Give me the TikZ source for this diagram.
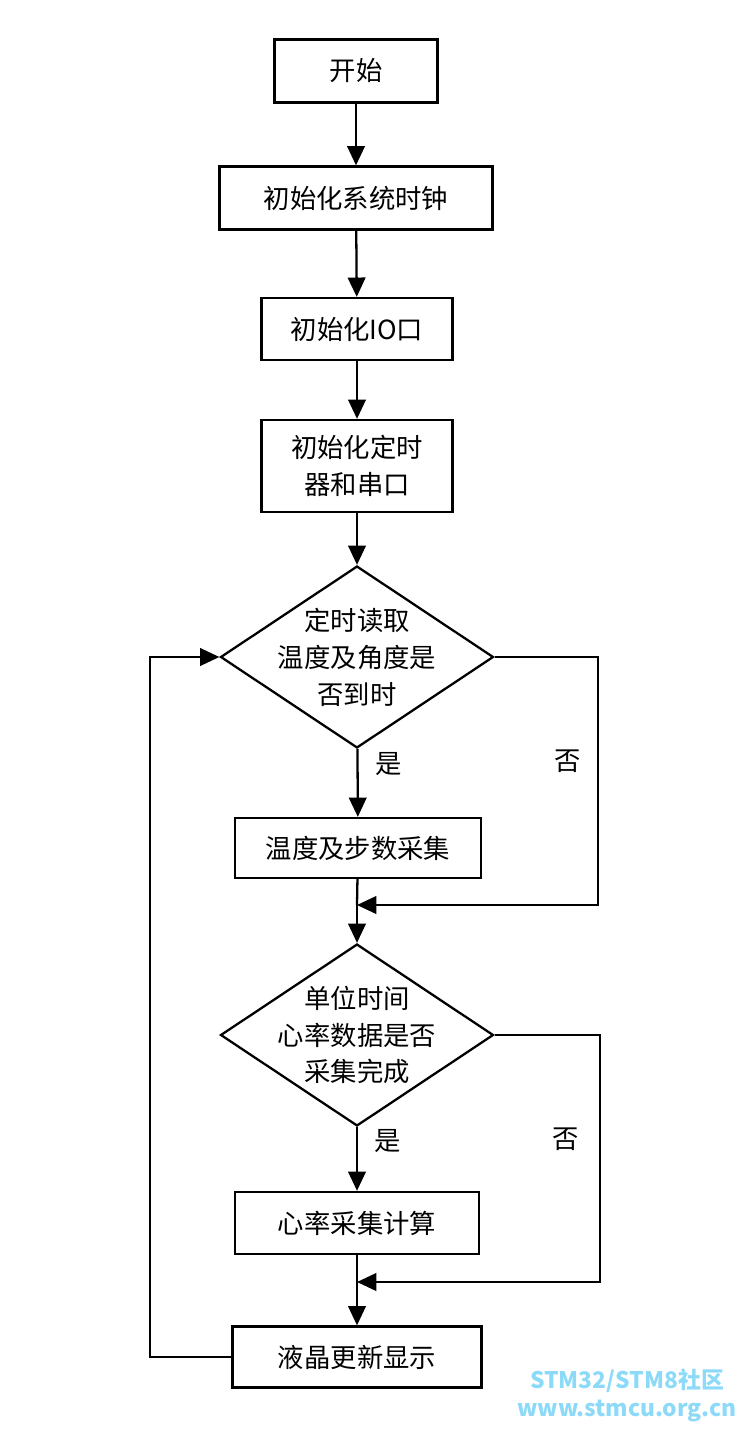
\documentclass[tikz,border=0pt]{standalone}
\usepackage{fontspec}
\setmainfont{Noto Sans CJK SC}
\usetikzlibrary{shapes.geometric}
\usetikzlibrary{arrows.meta}

\begin{document}
\begin{tikzpicture}[x=0.02cm, y=-0.02cm, line width=1.3pt, font=\fontsize{15}{21}\selectfont]
\tikzset{box/.style = {rectangle, draw, align=center, inner sep=0pt}}
\tikzset{cond/.style = {diamond, draw, inner sep=0pt, minimum width=5.46cm, minimum height=3.64cm}}
\tikzset{edge/.style = {-{Triangle[length=11pt, width=10pt]}}}

\useasboundingbox (0,0) rectangle (749,1429);

\node[box, minimum width=3.26cm, minimum height=1.26cm] (start) at (356,71) {开始};
\node[box, minimum width=5.46cm, minimum height=1.26cm] (clk) at (356,198) {初始化系统时钟};
\node[box, minimum width=3.82cm, minimum height=1.24cm] (io) at (357,329) {初始化IO口};
\node[box, minimum width=3.82cm, minimum height=1.84cm] (tim) at (357,466) {初始化定时\\器和串口};
\node[cond] (q1) at (357,657) {};
\node[align=center] (q1text) at (q1.center) {定时读取\\温度及角度是\\否到时};
\node[box, minimum width=4.92cm, minimum height=1.2cm] (temp) at (358,848) {温度及步数采集};
\coordinate (m1) at (357,905);
\node[cond] (q2) at (357,1035) {};
\node[align=center] (q2text) at (q2.center) {单位时间\\心率数据是否\\采集完成};
\node[box, minimum width=4.88cm, minimum height=1.24cm] (hr) at (357,1223) {心率采集计算};
\coordinate (m2) at (357,1282);
\node[box, minimum width=4.98cm, minimum height=1.22cm] (lcd) at (357,1357) {液晶更新显示};

\draw[edge] (start) -- (clk);
\draw[edge] (clk) -- (io);
\draw[edge] (io) -- (tim);
\draw[edge] (tim) -- (q1);
\draw[edge] (q1) -- node[pos=0.22, right=6pt] {是} (temp);
\draw (temp) -- (m1);
\draw[edge] (q1.east) -- (598,657) -- node[pos=0.42, left=6pt] {否} (598,905) -- (m1);
\draw[edge] (m1) -- (q2);
\draw[edge] (q2) -- node[pos=0.22, right=6pt] {是} (hr);
\draw (hr) -- (m2);
\draw[edge] (q2.east) -- (600,1035) -- node[pos=0.42, left=8pt] {否} (600,1282) -- (m2);
\draw[edge] (m2) -- (lcd);
\draw[edge] (lcd.west) -- (150,1357) -- (150,657) -- (q1.west);

\node[text=cyan!45, font=\fontsize{13}{16}\selectfont\bfseries, align=center] (wm) at (627,1395) {STM32/STM8社区\\www.stmcu.org.cn};
\end{tikzpicture}
\end{document}
